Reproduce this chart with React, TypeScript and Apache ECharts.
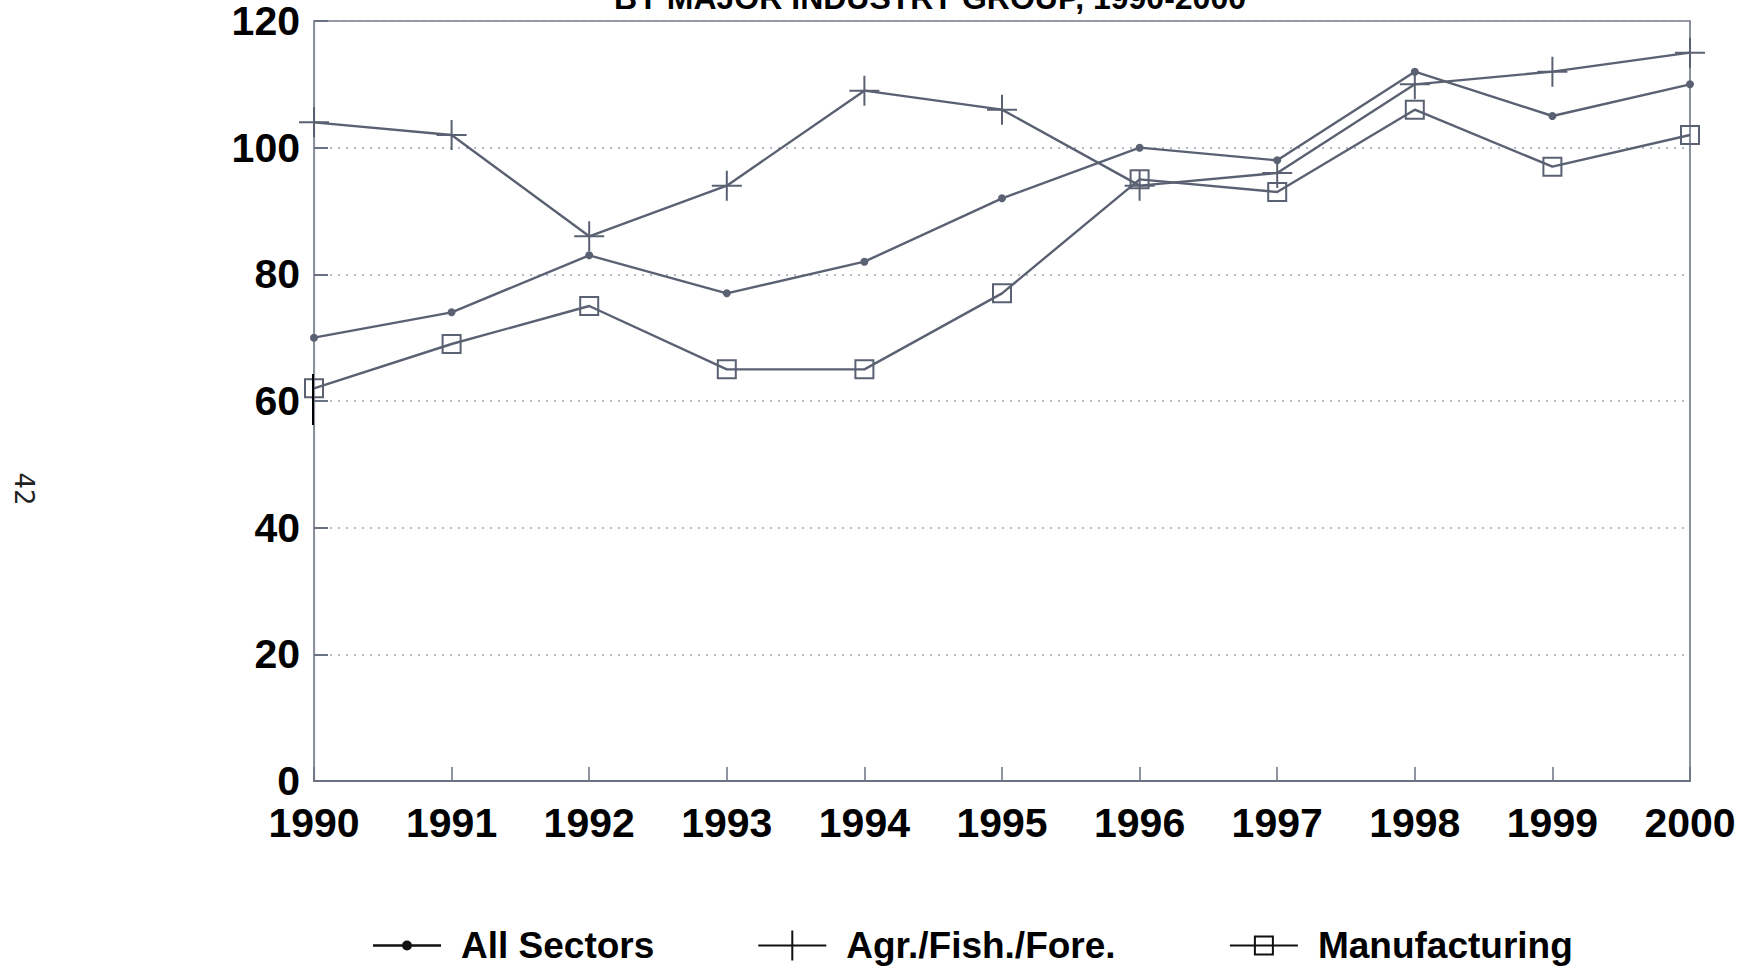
import React, { useEffect, useRef } from "react";
import * as echarts from "echarts";

const years = ["1990", "1991", "1992", "1993", "1994", "1995", "1996", "1997", "1998", "1999", "2000"];
const allSectors = [70, 74, 83, 77, 82, 92, 100, 98, 112, 105, 110];
const agrFishFore = [104, 102, 86, 94, 109, 106, 94, 96, 110, 112, 115];
const manufacturing = [62, 69, 75, 65, 65, 77, 95, 93, 106, 97, 102];
const seriesNames = ["All Sectors", "Agr./Fish./Fore.", "Manufacturing"];
const titleText = "BY MAJOR INDUSTRY GROUP, 1990-2000";
const pageNumber = "42";

const LINE = "#5a6172";
const FONT = "'Liberation Sans', Arial, Helvetica, sans-serif";

const plusSymbol = "path://M0,14 H30 V16 H0 Z M14,0 H16 V30 H14 Z";
const hollowSquare = "path://M0,0 H20 V20 H0 Z M2,2 V18 H18 V2 Z";

const legendIcons = [
  "path://M0,14 H30 V16.5 H0 Z M38,14 H68 V16.5 H38 Z M29,15.25 A5,5 0 1,1 39,15.25 A5,5 0 1,1 29,15.25 Z",
  "path://M0,14 H68 V16 H0 Z M33,0 H35 V30 H33 Z",
  "path://M0,14 H68 V16 H0 Z M24,5 H44 V25 H24 Z M26,7 V23 H42 V7 Z",
];

export default function App() {
  const ref = useRef<HTMLDivElement>(null);
  useEffect(() => {
    document.body.style.margin = "0";
    const chart = echarts.init(ref.current!, null, { renderer: "svg" });
    const mk = (name: string, data: number[], symbol: string, size: number) => ({
      name,
      type: "line",
      data,
      symbol,
      symbolSize: size,
      showSymbol: true,
      color: LINE,
      lineStyle: { color: LINE, width: 2.4 },
      itemStyle: { color: LINE, borderWidth: 0 },
      emphasis: { disabled: true },
      z: 3,
    });
    chart.setOption({
      animation: false,
      backgroundColor: "#ffffff",
      grid: {
        left: 314,
        right: 51,
        top: 21,
        bottom: 186,
        show: true,
        borderColor: "#6f7687",
        borderWidth: 1.6,
      },
      xAxis: {
        type: "category",
        data: years,
        boundaryGap: false,
        axisLine: { lineStyle: { color: "#6a7182", width: 2 } },
        axisTick: { inside: true, length: 14, lineStyle: { color: "#6a7182", width: 1.5 } },
        axisLabel: {
          margin: 22,
          fontSize: 41,
          lineHeight: 40,
          fontWeight: "bold",
          fontFamily: FONT,
          color: "#000",
        },
        splitLine: { show: false },
      },
      yAxis: {
        type: "value",
        min: 0,
        max: 120,
        interval: 20,
        axisLine: { show: true, lineStyle: { color: "#8a90a0", width: 1.2 } },
        axisTick: { show: true, inside: true, length: 14, lineStyle: { color: "#6a7182", width: 2 } },
        axisLabel: {
          margin: 14,
          fontSize: 41,
          lineHeight: 40,
          fontWeight: "bold",
          fontFamily: FONT,
          color: "#000",
        },
        splitLine: { show: true, lineStyle: { color: "#9aa2b4", type: [2, 6], width: 1.5 } },
      },
      legend: {
        left: 368,
        top: 922,
        orient: "horizontal",
        itemWidth: 68,
        itemHeight: 30,
        itemGap: 104,
        symbolKeepAspect: true,
        itemStyle: { color: "#111", borderWidth: 0 },
        textStyle: {
          fontSize: 37,
          fontWeight: "bold",
          fontFamily: FONT,
          color: "#000",
          padding: [0, 0, 0, 15],
        },
        formatter: (n: string) => (n === seriesNames[1] ? n + " " : n),
        selectedMode: false,
        data: seriesNames.map((n, i) => ({
          name: n,
          icon: legendIcons[i],
          itemStyle: { color: "#111", borderWidth: 0 },
        })),
      },
      graphic: [
        {
          type: "text",
          x: 930,
          y: 14,
          style: {
            text: titleText,
            fontSize: 32,
            fontWeight: "bold",
            fontFamily: FONT,
            fill: "#000",
            textAlign: "center",
            textVerticalAlign: "bottom",
          },
        },
        {
          type: "text",
          x: 24,
          y: 489,
          rotation: -Math.PI / 2,
          style: {
            text: pageNumber,
            fontSize: 26,
            fontFamily: "'DejaVu Sans', sans-serif",
            fill: "#222",
            textAlign: "center",
            textVerticalAlign: "middle",
          },
        },
        {
          type: "line",
          shape: { x1: 313, y1: 374, x2: 313, y2: 425 },
          style: { stroke: "#000", lineWidth: 2 },
          z: 10,
        },
      ],
      series: [
        mk(seriesNames[0], allSectors, "circle", 8),
        mk(seriesNames[1], agrFishFore, plusSymbol, 30),
        mk(seriesNames[2], manufacturing, hollowSquare, 20),
      ],
    });
    return () => chart.dispose();
  }, []);
  return <div ref={ref} style={{ position: "fixed", left: 0, top: 0, width: 1741, height: 967 }} />;
}
